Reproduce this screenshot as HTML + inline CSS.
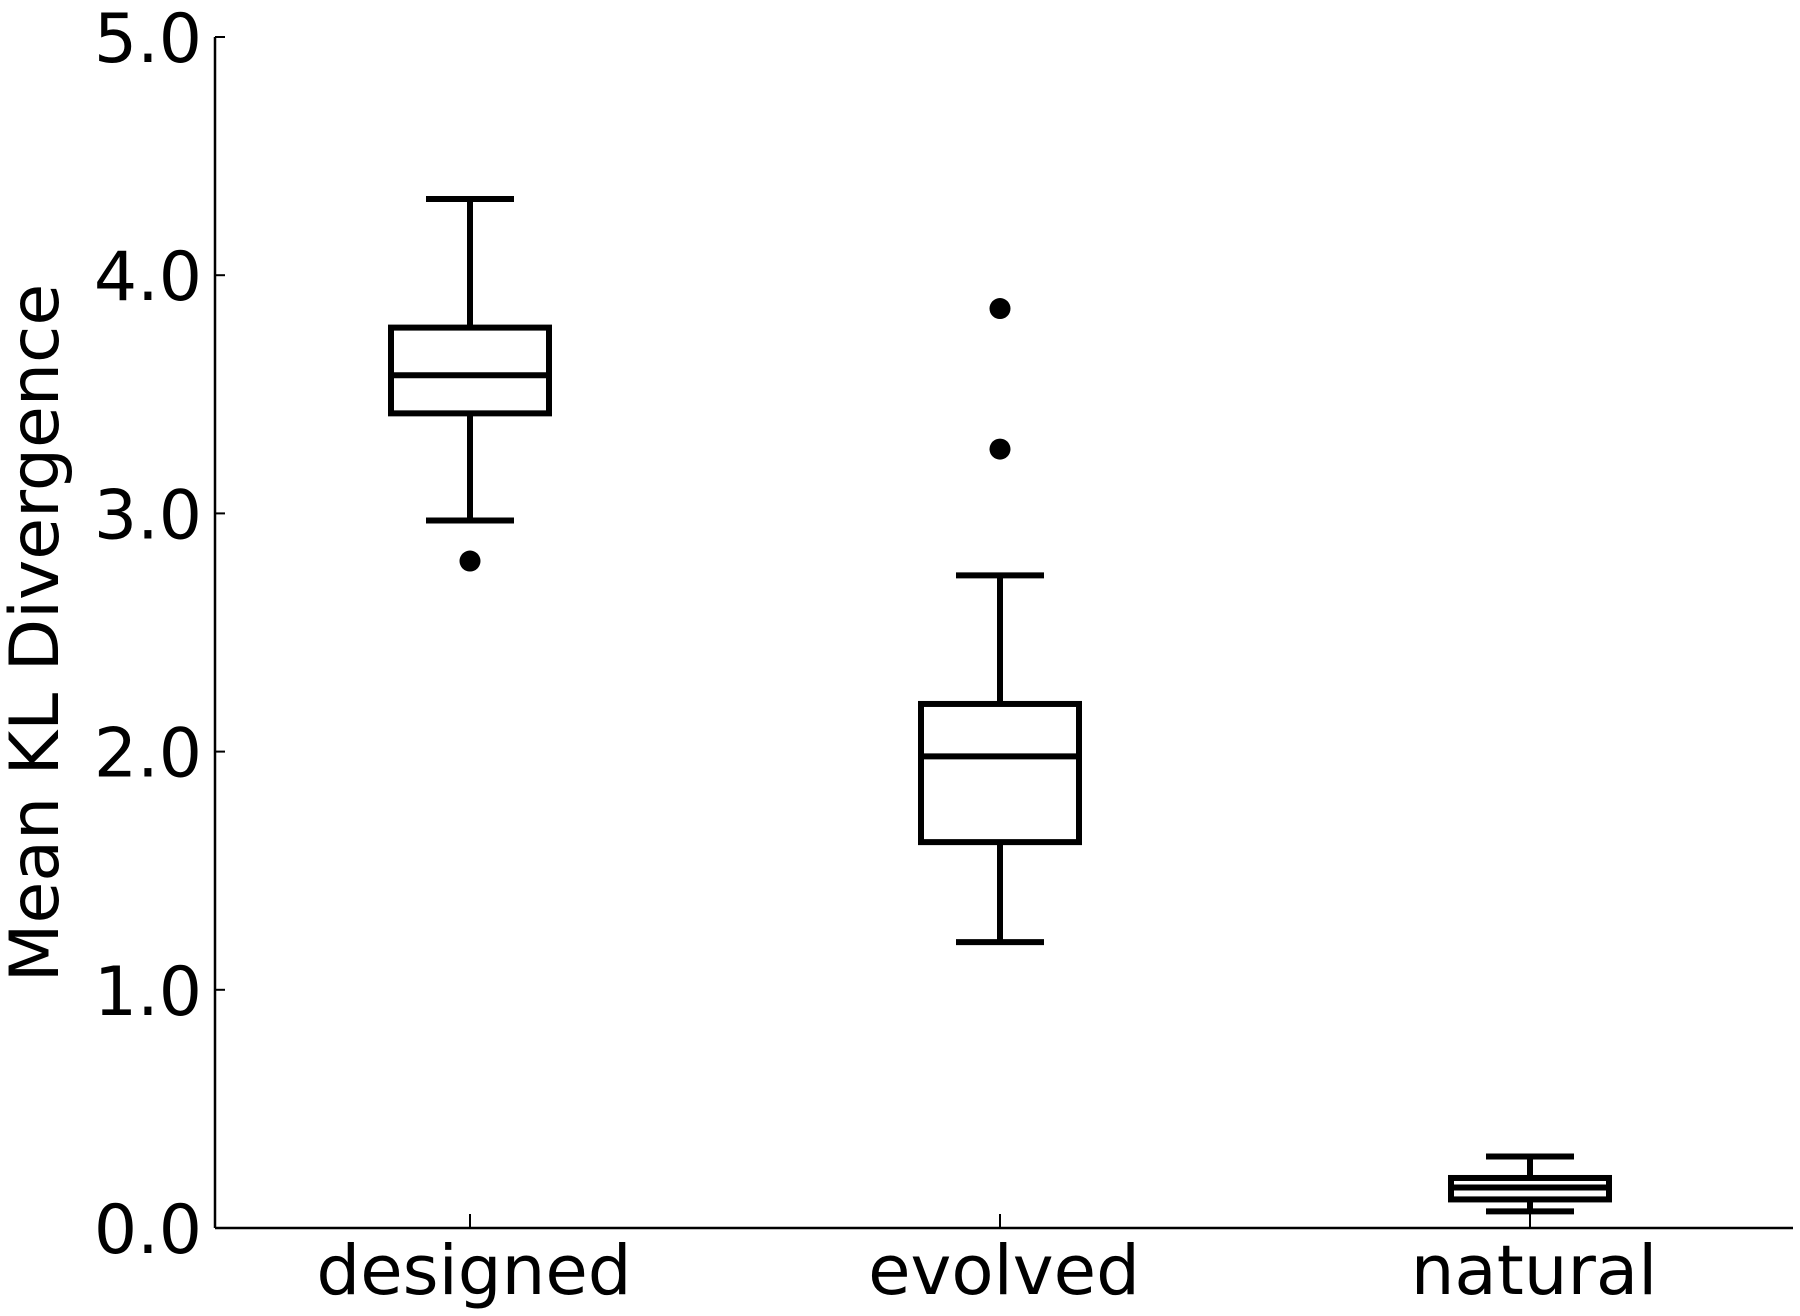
<!DOCTYPE html>
<html><head><meta charset="utf-8"><style>
html,body{margin:0;padding:0;background:#fff;}
svg{display:block;font-family:"DejaVu Sans","Liberation Sans",sans-serif;}
</style></head><body>
<svg id="chart" width="1800" height="1316" viewBox="0 0 1800 1316">
<g id="axes"></g>
<g id="marks"></g>
<text transform="translate(58,633) rotate(-90)" text-anchor="middle" font-size="68" fill="#000">Mean KL Divergence</text>
</svg>
<script>
const categories = ["designed","evolved","natural"];
const whiskerHigh = [4.32, 2.74, 0.30];
const q3Values = [3.78, 2.20, 0.21];
const medians = [3.58, 1.98, 0.17];
const q1Values = [3.42, 1.62, 0.12];
const whiskerLow = [2.97, 1.20, 0.07];
const outliers = [[2.80], [3.86, 3.27], []];
const yTicks = [0, 1, 2, 3, 4, 5];
const yTickLabels = ["0.0","1.0","2.0","3.0","4.0","5.0"];

const NS = "http://www.w3.org/2000/svg";
const X0 = 215, X1 = 1793, Y0 = 1228, Y5 = 37;
const y = v => Y0 - (v / 5) * (Y0 - Y5);
const x = i => 470 + i * 530;
function mk(tag, attrs, parent){
  const e = document.createElementNS(NS, tag);
  for (const k in attrs) e.setAttribute(k, attrs[k]);
  parent.appendChild(e); return e;
}
const axes = document.getElementById("axes");
const marks = document.getElementById("marks");
let l = mk("line", {x1:X0, y1:Y5, x2:X0, y2:Y0, stroke:"#000", "stroke-width":2.5}, axes);


l = mk("line", {x1:X0, y1:Y0, x2:X1, y2:Y0, stroke:"#000", "stroke-width":2.5}, axes);


yTicks.forEach((t, i) => {
  const tk = mk("line", {x1:X0, y1:y(t), x2:X0+10, y2:y(t), stroke:"#000", "stroke-width":2}, axes);
  
  
  const tx = mk("text", {x:202, y:y(t)+25, "text-anchor":"end", "font-size":68, fill:"#000"}, axes);
  tx.textContent = yTickLabels[i];
  
  
});
categories.forEach((c, i) => {
  const cx = x(i);
  const tk = mk("line", {x1:cx, y1:Y0, x2:cx, y2:Y0-14, stroke:"#000", "stroke-width":2}, axes);
  
  
  const tx = mk("text", {x:cx+4, y:1294, "text-anchor":"middle", "font-size":69, fill:"#000"}, axes);
  tx.textContent = c;
  
  
  const g = mk("g", {stroke:"#000", "stroke-width":6, fill:"none"}, marks);
  
  
  mk("line", {x1:cx, y1:y(whiskerHigh[i]), x2:cx, y2:y(q3Values[i])}, g);
  mk("line", {x1:cx, y1:y(q1Values[i]), x2:cx, y2:y(whiskerLow[i])}, g);
  mk("line", {x1:cx-44, y1:y(whiskerHigh[i]), x2:cx+44, y2:y(whiskerHigh[i])}, g);
  mk("line", {x1:cx-44, y1:y(whiskerLow[i]), x2:cx+44, y2:y(whiskerLow[i])}, g);
  mk("rect", {x:cx-79, y:y(q3Values[i]), width:158, height:y(q1Values[i])-y(q3Values[i]), fill:"#fff"}, g);
  mk("line", {x1:cx-79, y1:y(medians[i]), x2:cx+79, y2:y(medians[i])}, g);
  outliers[i].forEach(v => {
    const d = mk("circle", {cx:cx, cy:y(v), r:10.5, fill:"#000", stroke:"none"}, marks);
    
    
  });
});
</script>
</body></html>
